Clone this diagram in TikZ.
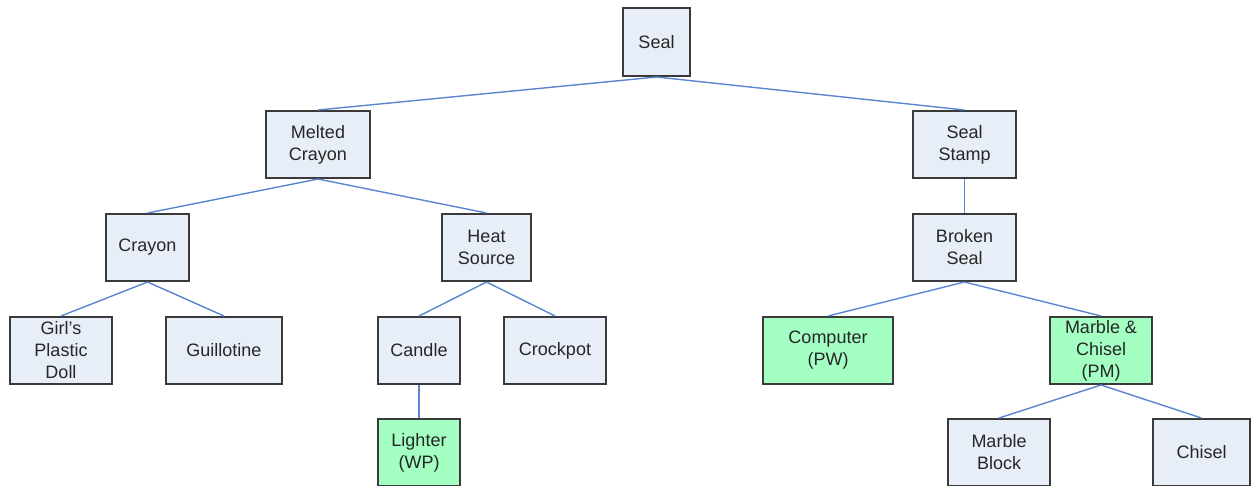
\documentclass[tikz,border=0pt]{standalone}
\usepackage{fontspec}
\setmainfont{Liberation Sans}
\definecolor{boxfill}{HTML}{E8EEF7}
\definecolor{greenfill}{HTML}{A3FFC2}
\definecolor{boxline}{HTML}{3A3A3A}
\definecolor{linkcol}{HTML}{5A86D0}
\begin{document}
\begin{tikzpicture}[x=1pt,y=-1pt,
  box/.style={draw=boxline, fill=boxfill, line width=2pt, rectangle, align=center, inner sep=0pt,
    minimum height=67pt, font=\fontsize{18}{22}\selectfont, text=black!85},
  gbox/.style={box, fill=greenfill},
  link/.style={draw=linkcol, line width=1.4pt}]
\useasboundingbox (0,0) rectangle (1252,485);
\clip (0,0) rectangle (1252,485);
\fill[white] (0,0) rectangle (1252,485);
% nodes
\node[box, minimum width=67pt, minimum height=68pt] (seal) at (656.5,42) {Seal};
\node[box, minimum width=104pt] (mc) at (318,144.5) {Melted\\Crayon};
\node[box, minimum width=103pt] (ss) at (964.5,144.5) {Seal\\Stamp};
\node[box, minimum width=83pt] (crayon) at (147.5,247.5) {Crayon};
\node[box, minimum width=89pt] (heat) at (486.5,247.5) {Heat\\Source};
\node[box, minimum width=103pt] (broken) at (964.5,247.5) {Broken\\Seal};
\node[box, minimum width=102pt] (doll) at (61,350.5) {Girl's\\Plastic\\Doll};
\node[box, minimum width=116pt] (guill) at (224,350.5) {Guillotine};
\node[box, minimum width=82pt] (candle) at (419,350.5) {Candle};
\node[box, minimum width=102pt] (crock) at (555,350.5) {Crockpot};
\node[gbox, minimum width=130pt] (comp) at (828,350.5) {Computer\\(PW)};
\node[gbox, minimum width=102pt] (mch) at (1101,350.5) {Marble \&\\Chisel\\(PM)};
\node[gbox, minimum width=82pt] (lighter) at (419,452.5) {Lighter\\(WP)};
\node[box, minimum width=102pt] (mblock) at (999,452.5) {Marble\\Block};
\node[box, minimum width=97pt] (chisel) at (1201.5,452.5) {Chisel};
% links
\begin{scope}[on background layer/.style={}]
\draw[link] (seal.south) -- (mc.north);
\draw[link] (seal.south) -- (ss.north);
\draw[link] (mc.south) -- (crayon.north);
\draw[link] (mc.south) -- (heat.north);
\draw[link] (ss.south) -- (broken.north);
\draw[link] (crayon.south) -- (doll.north);
\draw[link] (crayon.south) -- (guill.north);
\draw[link] (heat.south) -- (candle.north);
\draw[link] (heat.south) -- (crock.north);
\draw[link] (candle.south) -- (lighter.north);
\draw[link] (broken.south) -- (comp.north);
\draw[link] (broken.south) -- (mch.north);
\draw[link] (mch.south) -- (mblock.north);
\draw[link] (mch.south) -- (chisel.north);
\end{scope}
\end{tikzpicture}
\end{document}
